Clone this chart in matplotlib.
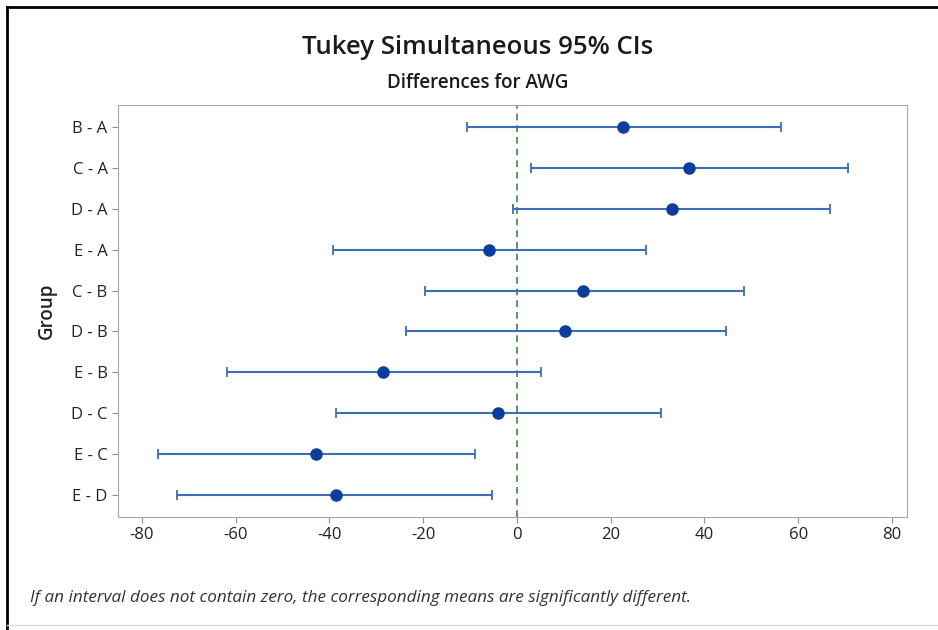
import matplotlib.pyplot as plt
from matplotlib.lines import Line2D
import numpy as np

plt.rcParams['font.family'] = ['Open Sans', 'DejaVu Sans']
plt.rcParams['axes.unicode_minus'] = False

# Tukey pairwise differences
groups = ["B - A", "C - A", "D - A", "E - A", "C - B",
          "D - B", "E - B", "D - C", "E - C", "E - D"]
diff = [22.6, 36.7, 33.0, -6.0, 14.1, 10.2, -28.6, -4.1, -42.9, -38.6]
lower = [-10.7, 3.0, -0.9, -39.2, -19.6, -23.7, -61.8, -38.6, -76.5, -72.5]
upper = [56.3, 70.6, 66.7, 27.5, 48.4, 44.6, 5.1, 30.7, -9.0, -5.3]
xticks = [-80, -60, -40, -20, 0, 20, 40, 60, 80]

diff = np.array(diff)
err = np.vstack([diff - np.array(lower), np.array(upper) - diff])
ypos = np.arange(len(groups))

fig = plt.figure(figsize=(9.38, 6.3), dpi=100)
ax = fig.add_axes([118 / 938, 1 - 517 / 630, (907 - 118) / 938, (517 - 105) / 630])

ax.axvline(0, color='#3a8a3a', ls=(0, (4, 3)), lw=1.2, zorder=1)
ax.errorbar(diff, ypos, xerr=err, fmt='o', color='#3d6db5', ecolor='#3d6db5',
            elinewidth=1.5, capsize=3.5, capthick=1.3, markersize=8,
            markerfacecolor='#0b3d9c', markeredgecolor='#0b3d9c', zorder=3)

ax.set_xlim(-85.1, 83.2)
ax.set_ylim(len(groups) - 0.47, -0.53)
ax.set_xticks(xticks)
ax.set_yticks(ypos)
ax.set_yticklabels(groups)
ax.tick_params(colors='#909090', labelcolor='#222222', labelsize=12, length=4)
for s in ax.spines.values():
    s.set_color('#a8a8a8')
ax.set_ylabel("Group", fontsize=13.5, fontweight='semibold', color='#222222', labelpad=10)

fig.text(478 / 938, 1 - 48 / 630, "Tukey Simultaneous 95% CIs", ha='center', va='center',
         fontsize=18.5, fontweight='semibold', color='#1a1a1a')
fig.text(478 / 938, 1 - 83 / 630, "Differences for AWG", ha='center', va='center',
         fontsize=13.5, fontweight='semibold', color='#1a1a1a')
fig.text(30 / 938, 1 - 598 / 630,
         "If an interval does not contain zero, the corresponding means are significantly different.",
         ha='left', va='center', fontsize=12.3, style='italic', color='#333333')

# outer frame
fig.add_artist(Line2D([7 / 938, 7 / 938], [0, 1 - 7 / 630], color='black', lw=2))
fig.add_artist(Line2D([7 / 938, 1], [1 - 7 / 630, 1 - 7 / 630], color='black', lw=2))
fig.add_artist(Line2D([7 / 938, 1], [1 - 625 / 630, 1 - 625 / 630], color='#d8d8d8', lw=1))

fig.savefig('out.png', dpi=100)
